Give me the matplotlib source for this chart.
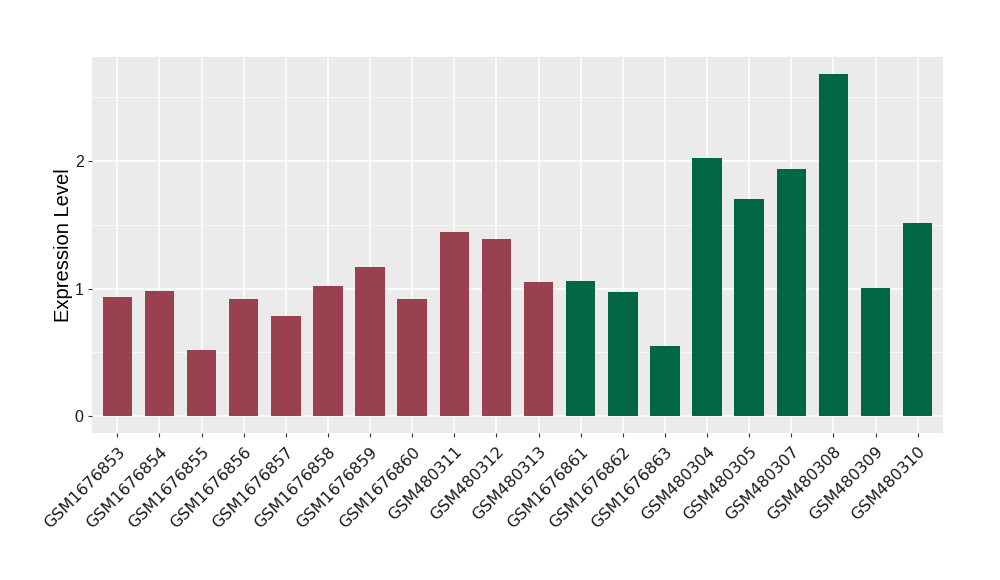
import matplotlib
matplotlib.use('Agg')
from matplotlib import pyplot as plt
from matplotlib.ticker import MultipleLocator

samples = ['GSM1676853', 'GSM1676854', 'GSM1676855', 'GSM1676856', 'GSM1676857',
           'GSM1676858', 'GSM1676859', 'GSM1676860', 'GSM480311', 'GSM480312',
           'GSM480313', 'GSM1676861', 'GSM1676862', 'GSM1676863', 'GSM480304',
           'GSM480305', 'GSM480307', 'GSM480308', 'GSM480309', 'GSM480310']
values = [0.933, 0.98, 0.518, 0.918, 0.784, 1.02, 1.169, 0.918, 1.443, 1.388,
          1.051, 1.059, 0.973, 0.549, 2.024, 1.702, 1.937, 2.682, 1.004, 1.514]
groups = ['a'] * 11 + ['b'] * 9

group_colors = {'a': '#9A4150', 'b': '#006743'}


def main():
    fig = plt.figure(figsize=(10, 5.8), dpi=100)
    ax = fig.add_axes([0.092, 0.2534, 0.851, 0.6483])
    ax.set_facecolor('#EBEBEB')

    x = list(range(len(samples)))
    colors = [group_colors[g] for g in groups]
    ax.bar(x, values, width=0.7, color=colors, zorder=3)

    ax.set_xlim(-0.6, len(samples) - 0.4)
    ax.set_ylim(-0.133, 2.816)
    ax.yaxis.set_major_locator(MultipleLocator(1))
    ax.yaxis.set_minor_locator(MultipleLocator(0.5))

    ax.grid(which='major', color='white', linewidth=1.1, zorder=0)
    ax.grid(which='minor', axis='y', color='white', linewidth=0.5, zorder=0)
    ax.set_axisbelow(True)
    for s in ax.spines.values():
        s.set_visible(False)

    ax.set_xticks(x)
    ax.set_xticklabels(samples, rotation=45, ha='right', rotation_mode='anchor',
                       fontsize=11.5, family='DejaVu Sans', color='#1a1a1a')
    ax.tick_params(axis='both', which='major', length=3, color='#333333', width=0.8)
    ax.tick_params(axis='x', pad=5)
    ax.tick_params(axis='y', which='minor', length=0)
    ax.tick_params(axis='y', labelsize=11.5, pad=3)
    for lab in ax.get_yticklabels():
        lab.set_family('Liberation Sans')
        lab.set_color('#1a1a1a')

    ax.set_ylabel('Expression Level', fontsize=14.5, family='Liberation Sans', labelpad=1)

    plt.savefig('out.png', dpi=100)


if __name__ == '__main__':
    main()
